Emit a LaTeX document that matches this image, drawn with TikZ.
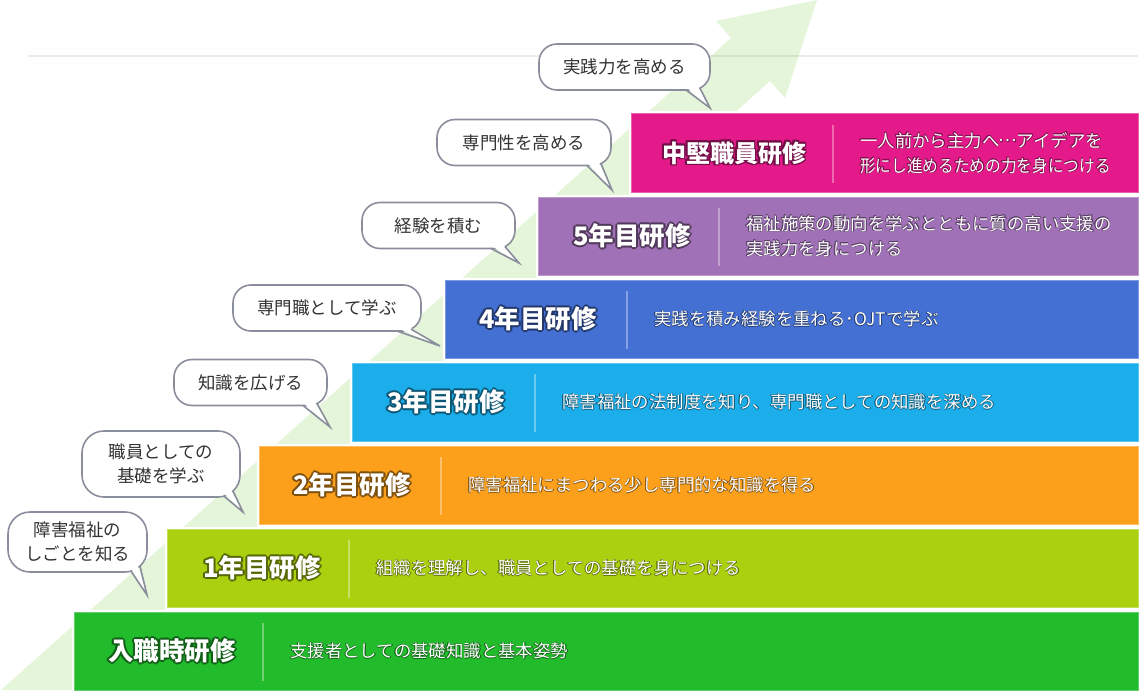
\documentclass[tikz,border=0pt]{standalone}
\usepackage{fontspec}
\setmainfont{Noto Sans CJK JP}
\usetikzlibrary{calc}
\definecolor{argreen}{RGB}{228,245,217}
\definecolor{bubline}{RGB}{138,141,156}
\definecolor{btext}{RGB}{51,51,51}
\definecolor{cA}{RGB}{34,187,44}
\definecolor{cB}{RGB}{171,208,16}
\definecolor{cC}{RGB}{252,160,28}
\definecolor{cD}{RGB}{27,174,235}
\definecolor{cE}{RGB}{68,112,212}
\definecolor{cF}{RGB}{160,113,182}
\definecolor{cG}{RGB}{228,26,138}
\newlength\olw
\newcommand\olcopy[3]{\rlap{\hspace*{#1}\raisebox{#2}{#3}}}
\newcommand\outlined[3]{\setlength\olw{#2}{\color{#1}%
 \olcopy{\olw}{0pt}{#3}\olcopy{-\olw}{0pt}{#3}\olcopy{0pt}{\olw}{#3}\olcopy{0pt}{-\olw}{#3}%
 \olcopy{.7\olw}{.7\olw}{#3}\olcopy{-.7\olw}{.7\olw}{#3}\olcopy{.7\olw}{-.7\olw}{#3}\olcopy{-.7\olw}{-.7\olw}{#3}}#3}
\newcommand\dl[1]{\outlined{dk}{0.5pt}{#1}}
\newcommand\fwell{\makebox[1em]{\raisebox{.3em}{…}}}
\tikzset{
 barbox/.style={rectangle, inner sep=0pt, outer sep=0pt, minimum height=78pt, anchor=north west, line width=1pt},
 titletext/.style={text=white, font=\bfseries\fontsize{25.5}{30}\selectfont, inner sep=0pt},
 desctext/.style={text=white, font=\fontsize{17.4}{25}\selectfont, align=left, anchor=west, inner sep=0pt},
 divline/.style={draw=white, draw opacity=0.35, line width=2pt},
 bubble/.style={draw=bubline, fill=white, line width=1.6pt, rounded corners=18pt, text=btext, font=\fontsize{17.5}{24}\selectfont, align=center, inner sep=0pt, outer sep=0pt, minimum height=46pt},
 bubble2/.style={bubble, rounded corners=22pt},
 bubtail/.style={draw=bubline, line width=1.6pt, line join=miter},
}
% #1 name, #2 colour, #3 left, #4 top, #5 title centre x, #6 divider x, #7 title, #8 description
\newcommand\stagebar[8]{%
 \colorlet{dk}{#2!55!black}%
 \fill[white] (#3-2.5,#4-2.5) rectangle (1140.5,#4+80.5);
 \node[barbox, fill=#2, draw=#2!70!white, minimum width=1138pt-#3pt] (#1) at (#3,#4) {};
 \draw[divline] (#6,#4+11) -- (#6,#4+69);
 \node[titletext] (#1t) at (#5,#4+39) {\outlined{#2!50!black}{1.8pt}{#7}};
 \node[desctext] (#1d) at (#6+27,#4+39) {#8};
}
% #1 node, #2 base point a offset, #3 base point b offset, #4 tip
\newcommand\tail[4]{%
 \coordinate (#1a) at ($(#1.south east)+(#2)$);
 \coordinate (#1b) at ($(#1.south east)+(#3)$);
 \fill[white] ($(#1a)+(0,-3)$) -- (#4) -- ($(#1b)+(-3,-3)$) -- cycle;
 \draw[bubtail] (#1a) -- (#4) -- (#1b);
}
\begin{document}
\begin{tikzpicture}[x=1pt,y=-1pt]
\useasboundingbox (0,0) rectangle (1142,695);
% big arrow
\fill[argreen] (1,690) -- (731,38) -- (716,21) -- (817,0) -- (785,98) -- (770,81) -- (88,690) -- cycle;
% top rule
\draw[black, opacity=0.08, line width=2.5pt] (28,56) -- (1138,56);
% bars
\stagebar{sG}{cG}{631}{114}{734}{833}{{\fontsize{24}{28}\selectfont 中堅職員研修}}{\dl{一人前から主力へ\fwell アイデアを}\\\scalebox{0.9}[1]{\dl{形にし進めるための力を身につける}}}
\stagebar{sF}{cF}{538}{197}{632}{719}{5年目研修}{\dl{福祉施策の動向を学ぶとともに質の高い支援の}\\\dl{実践力を身につける}}
\stagebar{sE}{cE}{445}{280}{538}{627}{4年目研修}{\dl{実践を積み経験を重ねる･OJTで学ぶ}}
\stagebar{sD}{cD}{352}{363}{446}{535}{3年目研修}{\dl{障害福祉の法制度を知り、専門職としての知識を深める}}
\stagebar{sC}{cC}{259}{446}{352}{441}{2年目研修}{\dl{障害福祉にまつわる少し専門的な知識を得る}}
\stagebar{sB}{cB}{167}{529}{262}{349}{1年目研修}{\dl{組織を理解し、職員としての基礎を身につける}}
\stagebar{sA}{cA}{74}{612}{172}{263}{入職時研修}{\dl{支援者としての基礎知識と基本姿勢}}
% bubbles
\node[bubble, minimum width=171pt] (q1) at (624.5,67) {実践力を高める};
\tail{q1}{-24,0}{-10,-1.9}{710,108}
\node[bubble, minimum width=174pt] (q2) at (524,142.5) {専門性を高める};
\tail{q2}{-24,0}{-10,-1.9}{612,190}
\node[bubble, minimum width=153pt] (q3) at (438.5,225.5) {経験を積む};
\tail{q3}{-24,0}{-10,-1.9}{519,263}
\node[bubble, minimum width=188pt] (q4) at (327,308) {専門職として学ぶ};
\tail{q4}{-24,0}{-10,-1.9}{440,346}
\node[bubble, minimum width=153pt] (q5) at (250.5,382.5) {知識を広げる};
\tail{q5}{-24,0}{-10,-1.9}{330,427}
\node[bubble2, minimum width=158pt, minimum height=66pt] (q6) at (161,464) {職員としての\\基礎を学ぶ};
\tail{q6}{-16,-0.8}{-7,-5.9}{243,512}
\node[bubble2, minimum width=139pt, minimum height=60pt] (q7) at (77.5,542) {障害福祉の\\しごとを知る};
\tail{q7}{-16,-0.8}{-7,-5.9}{147,595}
\end{tikzpicture}
\end{document}
